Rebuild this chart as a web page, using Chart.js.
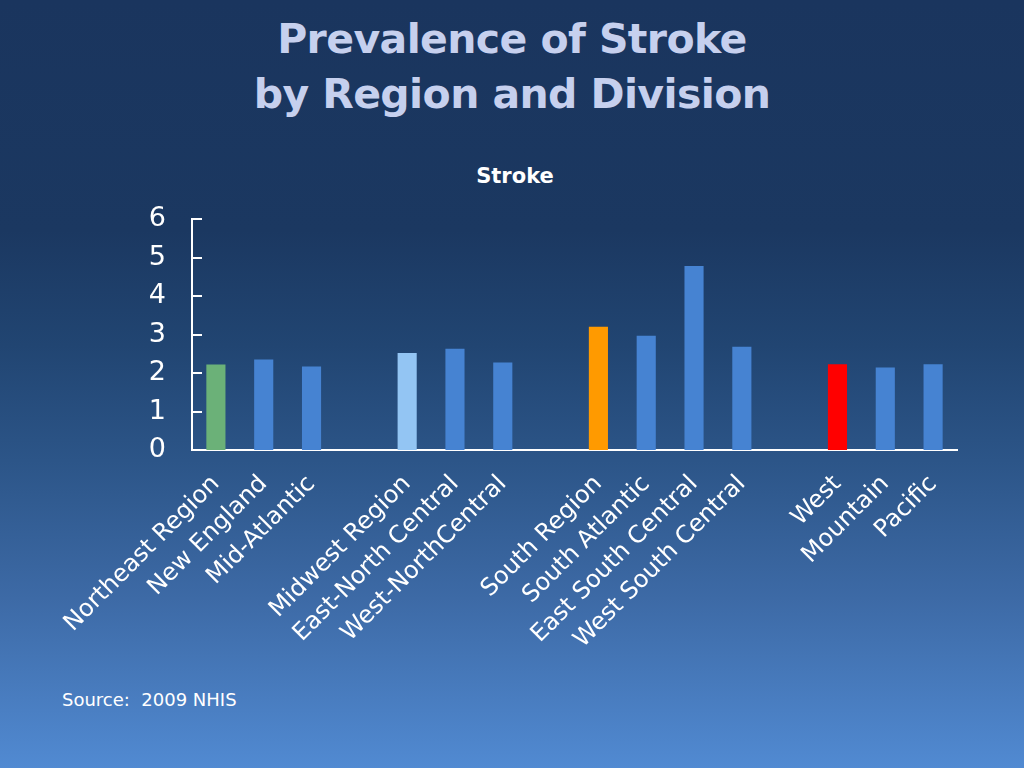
<!DOCTYPE html>
<html>
<head>
<meta charset="utf-8">
<script src="https://cdn.jsdelivr.net/npm/chart.js@4/dist/chart.umd.min.js"></script>
<style>
    html, body {
        margin: 0;
        padding: 0;
        width: 1024px;
        height: 768px;
        overflow: hidden;
    }
    body {
        position: relative;
        background: linear-gradient(to bottom, #1a355e 0%, #1b3861 30%, #214572 45%, #2c5588 60%, #3d6aa6 78%, #518ad2 100%);
        font-family: "DejaVu Sans", Verdana, sans-serif;
    }
    #main-title {
        position: absolute;
        left: 0;
        top: 12px;
        width: 1024px;
        text-align: center;
        color: #c6d0ee;
        font-weight: bold;
        font-size: 41px;
        line-height: 55px;
        letter-spacing: -0.6px;
    }
    #chart-title {
        position: absolute;
        left: 0;
        top: 164px;
        width: 1030px;
        text-align: center;
        color: #ffffff;
        font-weight: bold;
        font-size: 21px;
    }
    #source {
        position: absolute;
        left: 62px;
        top: 689px;
        color: #ffffff;
        font-size: 18px;
    }
    #chart-wrap {
        position: absolute;
        left: 0;
        top: 0;
        width: 1024px;
        height: 768px;
    }
</style>
</head>
<body>
<div id="main-title">Prevalence of Stroke<br>by Region and Division</div>
<div id="chart-title">Stroke</div>
<div id="source">Source:&nbsp; 2009 NHIS</div>
<div id="chart-wrap"><canvas id="chart"></canvas></div>

<script>
    // Categories (empty strings are the gaps between regions)
    const categories = [
        'Northeast Region', 'New England', 'Mid-Atlantic', '',
        'Midwest Region', 'East-North Central', 'West-NorthCentral', '',
        'South Region', 'South Atlantic', 'East South Central', 'West South Central', '',
        'West', 'Mountain', 'Pacific'
    ];
    const strokeValues = [
        2.22, 2.35, 2.17, null,
        2.52, 2.63, 2.27, null,
        3.2, 2.97, 4.78, 2.68, null,
        2.23, 2.14, 2.23
    ];
    const yTicks = [0, 1, 2, 3, 4, 5, 6];

    const regionColor = {
        'Northeast Region': '#6bb178',
        'Midwest Region': '#93c5f3',
        'South Region': '#ff9a00',
        'West': '#ff0000'
    };
    const divisionColor = '#4683d2';
    const barColors = categories.map(c => regionColor[c] || divisionColor);

    /**
     * Draw the y tick marks pointing into the plot, like the original.
     */
    const innerTicks = {
        id: 'innerTicks',
        afterDraw(chart) {
            const ctx = chart.ctx;
            const y = chart.scales.y;
            const left = chart.chartArea.left;
            ctx.save();
            ctx.strokeStyle = '#ffffff';
            ctx.lineWidth = 2;
            yTicks.forEach(v => {
                const py = Math.round(y.getPixelForValue(v));
                ctx.beginPath();
                ctx.moveTo(left, py);
                ctx.lineTo(left + 10, py);
                ctx.stroke();
            });
            ctx.restore();
        }
    };

    Chart.defaults.font.family = '"DejaVu Sans", Verdana, sans-serif';
    Chart.defaults.color = '#ffffff';

    new Chart(document.getElementById('chart'), {
        type: 'bar',
        data: {
            labels: categories,
            datasets: [{
                label: 'Stroke',
                data: strokeValues,
                backgroundColor: barColors,
                barPercentage: 0.4,
                categoryPercentage: 1.0
            }]
        },
        options: {
            responsive: true,
            maintainAspectRatio: false,
            animation: false,
            layout: {
                padding: { top: 219, right: 67, left: 0, bottom: 0 }
            },
            plugins: {
                legend: { display: false },
                title: { display: false },
                tooltip: { enabled: false }
            },
            scales: {
                x: {
                    afterFit(scale) { scale.height = 318; },
                    grid: { display: false, drawTicks: false },
                    border: { color: '#ffffff', width: 2 },
                    ticks: {
                        autoSkip: false,
                        maxRotation: 45,
                        minRotation: 45,
                        padding: 20,
                        color: '#ffffff',
                        font: { size: 24 }
                    }
                },
                y: {
                    min: 0,
                    max: 6,
                    afterFit(scale) { scale.width = 192; },
                    afterBuildTicks(scale) {
                        scale.ticks = yTicks.map(v => ({ value: v }));
                    },
                    grid: { display: false, drawTicks: false },
                    border: { color: '#ffffff', width: 2 },
                    ticks: {
                        padding: 26,
                        color: '#ffffff',
                        font: { size: 27 }
                    }
                }
            }
        },
        plugins: [innerTicks]
    });
</script>
</body>
</html>
